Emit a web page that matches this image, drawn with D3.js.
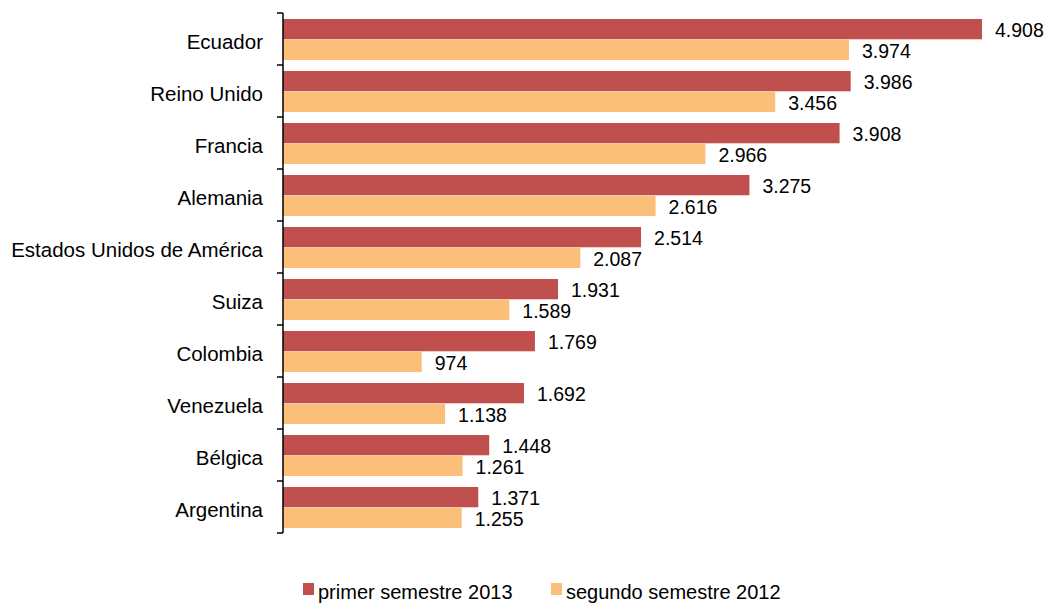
<!DOCTYPE html>
<html>
  <head>
    <meta charset="utf-8">
    <title>Bar chart</title>
    <script src="https://d3js.org/d3.v7.min.js"></script>
    <style>
      body { margin: 0; background: #fff; font-family: "Liberation Sans", Arial, sans-serif; }
      text { fill: #000; font-family: "Liberation Sans", Arial, sans-serif; }
    </style>
  </head>
  <body>
    <svg id="chart" width="1047" height="603"></svg>
    <script>
      // data
      var countries = ["Ecuador", "Reino Unido", "Francia", "Alemania", "Estados Unidos de América",
        "Suiza", "Colombia", "Venezuela", "Bélgica", "Argentina"];
      var primer2013 = [4908, 3986, 3908, 3275, 2514, 1931, 1769, 1692, 1448, 1371];
      var segundo2012 = [3974, 3456, 2966, 2616, 2087, 1589, 974, 1138, 1261, 1255];
      var seriesNames = ["primer semestre 2013", "segundo semestre 2012"];
      var colours = ["#C0504D", "#FBBF79"];

      var svg = d3.select("#chart");
      var fmt = function(v) { return d3.format(",")(v).replace(/,/g, "."); };

      // scales
      var x = d3.scaleLinear().domain([0, 4908]).range([283, 982]);
      var y = d3.scaleBand().domain(countries).range([13, 533]);
      var inner = d3.scaleBand().domain([0, 1]).range([6, 47]).paddingInner(0.02);

      // bars
      var groups = svg.selectAll(".group")
        .data(countries)
        .enter().append("g")
          .attr("class", "group")
          .attr("transform", function(d) { return "translate(0," + y(d) + ")"; });
      [primer2013, segundo2012].forEach(function(series, s) {
        groups.append("rect")
          .attr("x", x(0))
          .attr("y", inner(s))
          .attr("height", inner.bandwidth())
          .attr("width", function(d, i) { return x(series[i]) - x(0); })
          .attr("fill", colours[s]);
        groups.append("text")
          .attr("x", function(d, i) { return x(series[i]) + 13; })
          .attr("y", inner(s) + inner.bandwidth() / 2 + 1)
          .attr("dy", "0.36em")
          .style("font-size", "19.5px")
          .text(function(d, i) { return fmt(series[i]); });
      });

      // axis
      var axis = d3.axisLeft(y).tickSize(0).tickPadding(20);
      var axisGroup = svg.append("g")
        .attr("transform", "translate(" + x(0) + ",0)")
        .call(axis);
      axisGroup.select(".domain").remove();
      axisGroup.selectAll(".tick text")
        .attr("dy", "0.5em")
        .style("font-size", "20.5px")
        .style("font-family", "Liberation Sans, Arial, sans-serif")
        .attr("fill", "#000");
      axisGroup.append("line")
        .attr("y1", 13).attr("y2", 533)
        .attr("stroke", "#000").attr("stroke-width", 1.5);
      axisGroup.selectAll(".sep")
        .data(d3.range(countries.length + 1))
        .enter().append("line")
          .attr("x1", -6).attr("x2", 0)
          .attr("y1", function(d) { return 13 + d * y.step(); })
          .attr("y2", function(d) { return 13 + d * y.step(); })
          .attr("stroke", "#000").attr("stroke-width", 1.5);

      // legend
      var legendX = [303, 551];
      var legend = svg.selectAll(".legend")
        .data(seriesNames)
        .enter().append("g")
          .attr("class", "legend")
          .attr("transform", function(d, i) { return "translate(" + legendX[i] + ",583)"; });
      legend.append("rect")
        .attr("width", 11).attr("height", 12)
        .attr("fill", function(d, i) { return colours[i]; });
      legend.append("text")
        .attr("x", 15).attr("y", 16)
        .style("font-size", "20px")
        .text(function(d) { return d; });
    </script>
  </body>
</html>
